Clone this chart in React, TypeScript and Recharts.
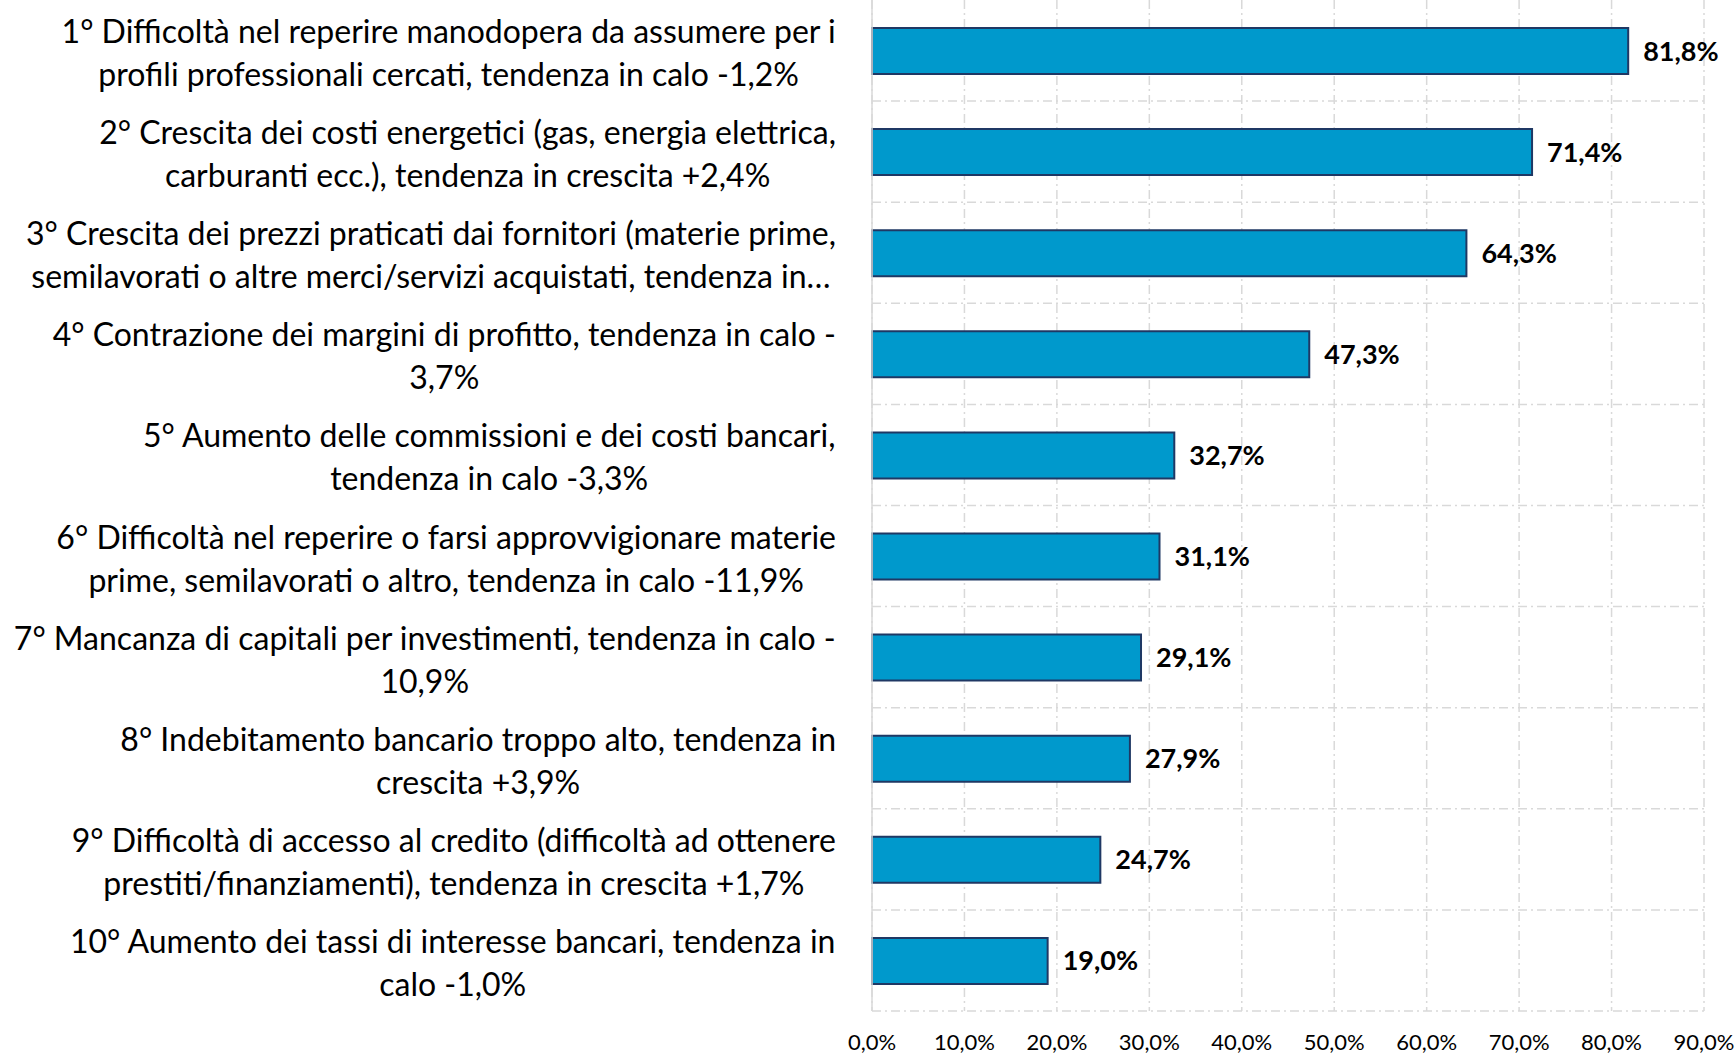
import { BarChart, Bar, XAxis, YAxis, CartesianGrid, LabelList } from 'recharts'

// category labels, already wrapped the way the reference shows them
const categoryLines: string[][] = [
  ['1° Difficoltà nel reperire manodopera da assumere per i', 'profili professionali cercati, tendenza in calo -1,2%'],
  ['2° Crescita dei costi energetici (gas, energia elettrica,', 'carburanti ecc.), tendenza in crescita +2,4%'],
  ['3° Crescita dei prezzi praticati dai fornitori (materie prime,', 'semilavorati o altre merci/servizi acquistati, tendenza in…'],
  ['4° Contrazione dei margini di profitto, tendenza in calo -', '3,7%'],
  ['5° Aumento delle commissioni e dei costi bancari,', 'tendenza in calo -3,3%'],
  ['6° Difficoltà nel reperire o farsi approvvigionare materie', 'prime, semilavorati o altro, tendenza in calo -11,9%'],
  ['7° Mancanza di capitali per investimenti, tendenza in calo -', '10,9%'],
  ['8° Indebitamento bancario troppo alto, tendenza in', 'crescita +3,9%'],
  ['9° Difficoltà di accesso al credito (difficoltà ad ottenere', 'prestiti/finanziamenti), tendenza in crescita +1,7%'],
  ['10° Aumento dei tassi di interesse bancari, tendenza in', 'calo -1,0%'],
]

const values = [81.8, 71.4, 64.3, 47.3, 32.7, 31.1, 29.1, 27.9, 24.7, 19.0]

const xTicks = [0, 10, 20, 30, 40, 50, 60, 70, 80, 90]

const FONT = 'Lato, "Open Sans", sans-serif'
const LABEL_SIZE = 32
const LINE_H = 43

const data = categoryLines.map((lines, i) => ({ name: lines.join(' '), value: values[i] }))
const linesByName: Record<string, string[]> = {}
categoryLines.forEach((lines) => { linesByName[lines.join(' ')] = lines })

const pct = (v: number) => v.toFixed(1).replace('.', ',') + '%'

let ctx: CanvasRenderingContext2D | null = null
function textWidth(s: string, font: string) {
  if (!ctx) ctx = document.createElement('canvas').getContext('2d')
  if (!ctx) return s.length * LABEL_SIZE * 0.5
  ctx.font = font
  return ctx.measureText(s).width
}

function CategoryTick(props: any) {
  const { x, y, payload } = props
  const lines = linesByName[payload.value] ?? [String(payload.value)]
  const w = Math.max(...lines.map((l) => textWidth(l, `${LABEL_SIZE}px Lato`)))
  const cx = x - 34 - w / 2
  return (
    <text textAnchor="middle" dominantBaseline="central" fontSize={LABEL_SIZE} fontFamily={FONT} fill="#000">
      {lines.map((l, i) => (
        <tspan key={i} x={cx} y={y + 1 + (i - (lines.length - 1) / 2) * LINE_H}>{l}</tspan>
      ))}
    </text>
  )
}

export default function App() {
  const n = data.length
  return (
    <div style={{ position: 'absolute', left: 0, top: 0, background: '#fff' }}>
      <BarChart
        width={1736}
        height={1054}
        data={data}
        layout="vertical"
        margin={{ top: 0, right: 32, left: 0, bottom: 0 }}
      >
        <CartesianGrid
          stroke="#d9d9d9"
          strokeWidth={1.5}
          strokeDasharray="9 4 2 4"
          horizontalCoordinatesGenerator={({ offset }: any) =>
            Array.from({ length: n }, (_, i) => offset.top + ((i + 1) * offset.height) / n)
          }
        />
        <XAxis
          type="number"
          domain={[0, 90]}
          ticks={xTicks}
          axisLine={false}
          tickLine={false}
          tickSize={0}
          tickMargin={23}
          height={43}
          tickFormatter={pct}
          tick={{ fontSize: 22, fill: '#000', fontFamily: FONT }}
        />
        <YAxis
          type="category"
          dataKey="name"
          width={872}
          interval={0}
          tickLine={false}
          tickSize={0}
          axisLine={{ stroke: '#d9d9d9', strokeWidth: 1.5 }}
          tick={<CategoryTick />}
        />
        <Bar dataKey="value" fill="#0099CC" stroke="#1F3864" strokeWidth={2} barSize={46} isAnimationActive={false}>
          <LabelList
            dataKey="value"
            position="right"
            offset={15}
            formatter={(v: any) => pct(Number(v))}
            style={{ fontSize: 27, fontWeight: 700, fill: '#000', fontFamily: FONT }}
          />
        </Bar>
      </BarChart>
    </div>
  )
}
